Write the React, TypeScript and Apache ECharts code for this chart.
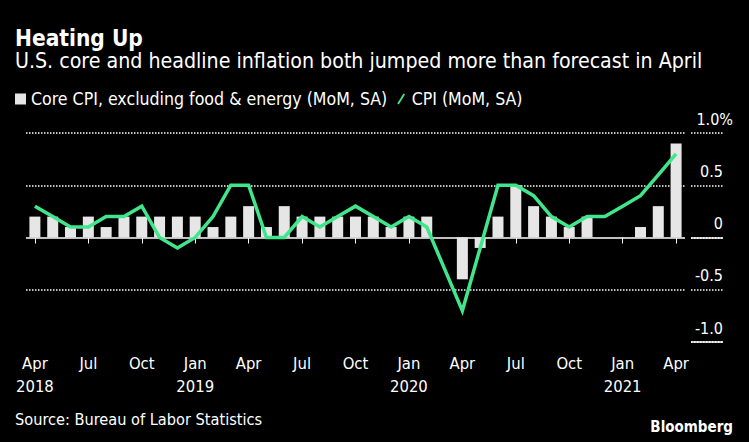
import React, { useEffect, useRef } from "react";
import * as echarts from "echarts";

const months = [
  "Apr 2018", "May 2018", "Jun 2018", "Jul 2018", "Aug 2018", "Sep 2018", "Oct 2018", "Nov 2018", "Dec 2018",
  "Jan 2019", "Feb 2019", "Mar 2019", "Apr 2019", "May 2019", "Jun 2019", "Jul 2019", "Aug 2019", "Sep 2019",
  "Oct 2019", "Nov 2019", "Dec 2019", "Jan 2020", "Feb 2020", "Mar 2020", "Apr 2020", "May 2020", "Jun 2020",
  "Jul 2020", "Aug 2020", "Sep 2020", "Oct 2020", "Nov 2020", "Dec 2020", "Jan 2021", "Feb 2021", "Mar 2021",
  "Apr 2021",
];

const coreCpi = [
  0.2, 0.2, 0.1, 0.2, 0.1, 0.2, 0.2, 0.2, 0.2, 0.2, 0.1, 0.2,
  0.3, 0.1, 0.3, 0.2, 0.2, 0.2, 0.2, 0.2, 0.1, 0.2, 0.2, 0.0,
  -0.4, -0.1, 0.2, 0.5, 0.3, 0.2, 0.1, 0.2, 0.0, 0.0, 0.1, 0.3,
  0.9,
];

const cpi = [
  0.3, 0.2, 0.1, 0.1, 0.2, 0.2, 0.3, 0.0, -0.1, 0.0, 0.2, 0.5,
  0.5, 0.0, 0.0, 0.2, 0.1, 0.2, 0.3, 0.2, 0.1, 0.2, 0.1, -0.3,
  -0.7, -0.1, 0.5, 0.5, 0.4, 0.2, 0.1, 0.2, 0.2, 0.3, 0.4, 0.6,
  0.8,
];

const yTicks = { min: -1, max: 1, interval: 0.5 };

const titleText = "Heating Up";
const subtitleText = "U.S. core and headline inflation both jumped more than forecast in April";
const sourceText = "Source: Bureau of Labor Statistics";
const coreName = "Core CPI, excluding food & energy (MoM, SA)";
const cpiName = "CPI (MoM, SA)";

const FONT = '"DejaVu Sans Condensed", "DejaVu Sans", sans-serif';
const WHITE = "#ffffff";
const GREEN = "#3fe68b";
const BAR = "#e6e6e6";
const TRANSPARENT = "rgba(0,0,0,0)";

export default function App() {
  const ref = useRef<HTMLDivElement>(null);

  useEffect(() => {
    if (!ref.current) return;
    const chart = echarts.init(ref.current, undefined, { renderer: "svg" });

    const showTick = (i: number) => i % 3 === 0;

    const option: any = {
      animation: false,
      backgroundColor: "#000000",
      textStyle: { fontFamily: FONT },
      title: [
        {
          text: titleText,
          left: 15,
          top: 26,
          padding: 0,
          textStyle: { color: WHITE, fontSize: 22.5, fontWeight: "bold", fontFamily: FONT },
        },
        {
          text: subtitleText,
          left: 15,
          top: 50,
          padding: 0,
          textStyle: { color: WHITE, fontSize: 21.2, fontWeight: "normal", fontFamily: FONT },
        },
        {
          text: sourceText,
          left: 15,
          top: 411,
          padding: 0,
          textStyle: { color: WHITE, fontSize: 16.2, fontWeight: "normal", fontFamily: FONT },
        },
        {
          text: "Bloomberg",
          right: 16,
          top: 419,
          padding: 0,
          textStyle: { color: WHITE, fontSize: 15, fontWeight: "bold", fontFamily: FONT },
        },
      ],
      legend: {
        left: 15,
        top: 90,
        padding: 0,
        itemWidth: 11,
        itemHeight: 11,
        itemGap: 10,
        textStyle: { color: WHITE, fontSize: 17.6, fontFamily: FONT },
        data: [
          { name: coreName, icon: "rect" },
          { name: cpiName, icon: "path://M0,13 L8,0 L10,1.2 L2,14.2 Z" },
        ],
      },
      grid: [
        { left: 26, right: 64, top: 133, bottom: 100 },
        { left: 691, right: 26, top: 133, bottom: 100 },
      ],
      xAxis: [
        {
          type: "category",
          gridIndex: 0,
          data: months,
          boundaryGap: true,
          axisLine: { show: false },
          axisTick: {
            show: true,
            alignWithLabel: true,
            interval: showTick,
            length: 6,
            lineStyle: { color: WHITE, width: 1 },
          },
          axisLabel: {
            interval: showTick,
            color: WHITE,
            fontSize: 16.5,
            lineHeight: 23,
            margin: 10,
            fontFamily: FONT,
            formatter: (value: string, index: number) => {
              const [m, y] = value.split(" ");
              return index === 0 || m === "Jan" ? `${m}\n${y}` : m;
            },
          },
          splitLine: { show: false },
        },
        {
          type: "category",
          gridIndex: 1,
          data: [""],
          show: false,
        },
      ],
      yAxis: [
        {
          type: "value",
          gridIndex: 0,
          ...yTicks,
          axisLine: { show: false },
          axisTick: { show: false },
          axisLabel: { show: false },
          splitLine: {
            show: true,
            lineStyle: {
              color: [TRANSPARENT, WHITE, TRANSPARENT, WHITE, WHITE],
              type: [1.5, 1.5],
              width: 1.5,
            },
          },
        },
        {
          type: "value",
          gridIndex: 0,
          position: "left",
          ...yTicks,
          axisLine: { show: false },
          axisTick: { show: false },
          axisLabel: { show: false },
          splitLine: {
            show: true,
            lineStyle: {
              color: [TRANSPARENT, TRANSPARENT, WHITE, TRANSPARENT, TRANSPARENT],
              type: "solid",
              width: 1.5,
            },
          },
        },
        {
          type: "value",
          gridIndex: 1,
          position: "right",
          ...yTicks,
          axisLine: { show: false },
          axisTick: { show: false },
          axisLabel: {
            show: true,
            inside: true,
            margin: -10,
            color: WHITE,
            fontSize: 16,
            fontFamily: FONT,
            verticalAlign: "bottom",
            padding: [0, 0, 6, 0],
            formatter: (v: number) => {
              if (v === 1) return "1.0%";
              const t = v === 0 ? "0" : v.toFixed(1);
              return `${t}{s| }`;
            },
            rich: { s: { width: 10, fontSize: 16 } },
          },
          splitLine: {
            show: true,
            lineStyle: {
              color: [WHITE, WHITE, WHITE, WHITE, WHITE],
              type: [1.5, 1.5],
              width: 1.5,
            },
          },
        },
        {
          type: "value",
          gridIndex: 1,
          position: "left",
          ...yTicks,
          axisLine: { show: false },
          axisTick: { show: false },
          axisLabel: { show: false },
          splitLine: {
            show: true,
            lineStyle: {
              color: [WHITE, TRANSPARENT, WHITE, TRANSPARENT, TRANSPARENT],
              type: "solid",
              width: 1.5,
            },
          },
        },
      ],
      series: [
        {
          name: coreName,
          type: "bar",
          xAxisIndex: 0,
          yAxisIndex: 0,
          data: coreCpi,
          barWidth: 11,
          itemStyle: { color: BAR },
          z: 2,
        },
        {
          name: cpiName,
          type: "line",
          xAxisIndex: 0,
          yAxisIndex: 0,
          data: cpi,
          symbol: "none",
          lineStyle: { color: GREEN, width: 3.5, join: "miter" },
          itemStyle: { color: GREEN },
          z: 4,
        },
      ],
    };

    chart.setOption(option);
    return () => chart.dispose();
  }, []);

  return (
    <div
      ref={ref}
      style={{ position: "absolute", left: 0, top: 0, width: 749, height: 442, background: "#000" }}
    />
  );
}
